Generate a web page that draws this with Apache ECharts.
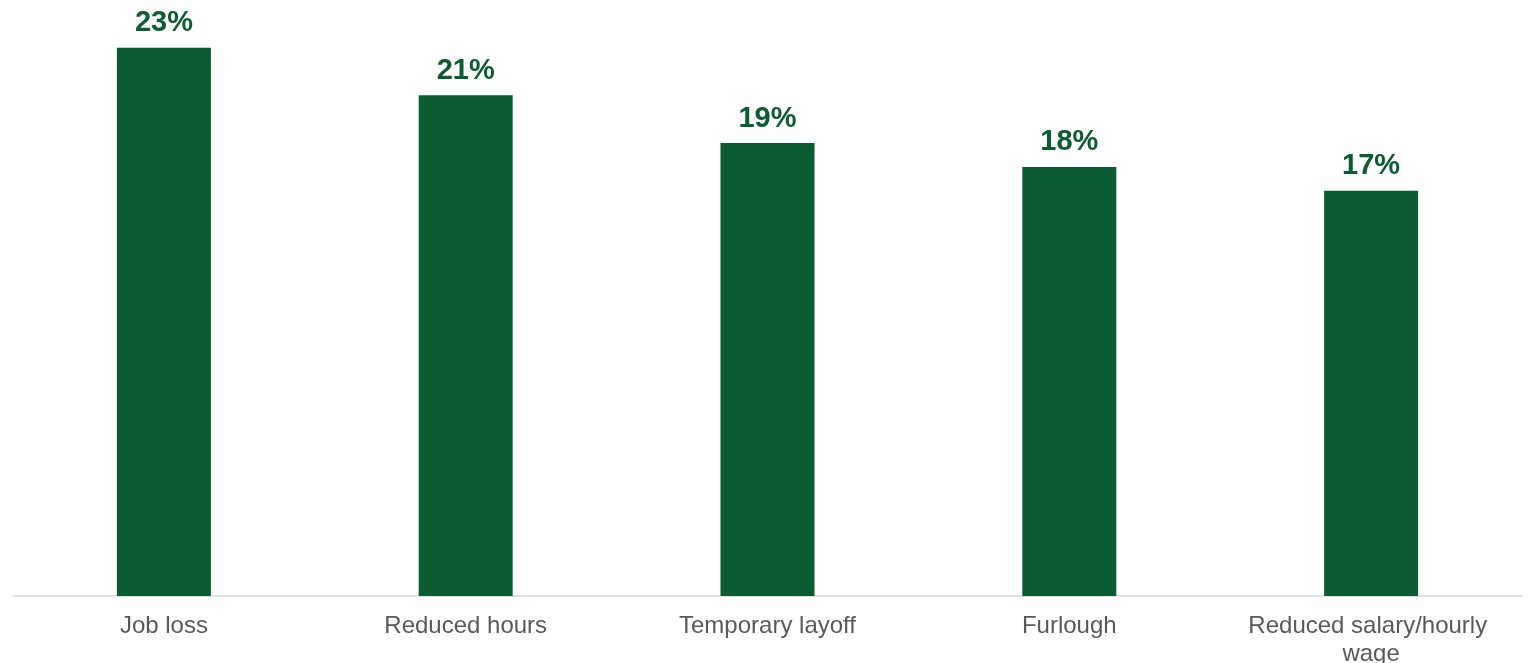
<!DOCTYPE html>
<html>
<head>
<meta charset="utf-8">
<script src="https://cdn.jsdelivr.net/npm/echarts@6/dist/echarts.min.js"></script>
<style>
  html, body { margin: 0; padding: 0; background: #ffffff; }
  #chart { width: 1531px; height: 663px; }
</style>
</head>
<body>
<div id="chart"></div>
<script>
// Impact on employment, share of respondents (%)
const categories = ['Job loss', 'Reduced hours', 'Temporary layoff', 'Furlough', 'Reduced salary/hourly wage'];
const shares = [23, 21, 19, 18, 17];

const green = '#0b5c33';

const chart = echarts.init(document.getElementById('chart'), null, { renderer: 'canvas' });
chart.setOption({
  animation: false,
  grid: { left: 13, right: 9, top: 0, bottom: 67, containLabel: false, outerBoundsMode: 'none' },
  xAxis: {
    type: 'category',
    data: categories,
    axisLine: { show: true, lineStyle: { color: '#d9d9d9', width: 1.5 } },
    axisTick: { show: false },
    axisLabel: {
      color: '#595959',
      fontFamily: 'Liberation Sans, Arial, sans-serif',
      fontSize: 24,
      lineHeight: 28,
      margin: 16,
      width: 270,
      overflow: 'break',
      interval: 0
    }
  },
  yAxis: {
    type: 'value',
    min: 0,
    max: 25,
    show: false,
    splitLine: { show: false }
  },
  series: [{
    type: 'bar',
    data: shares,
    barWidth: 94,
    itemStyle: { color: green },
    label: {
      show: true,
      position: 'top',
      distance: 10,
      formatter: p => p.value + '%',
      color: green,
      fontFamily: 'Liberation Sans, Arial, sans-serif',
      fontWeight: 'bold',
      fontSize: 29
    }
  }]
});
</script>
</body>
</html>
